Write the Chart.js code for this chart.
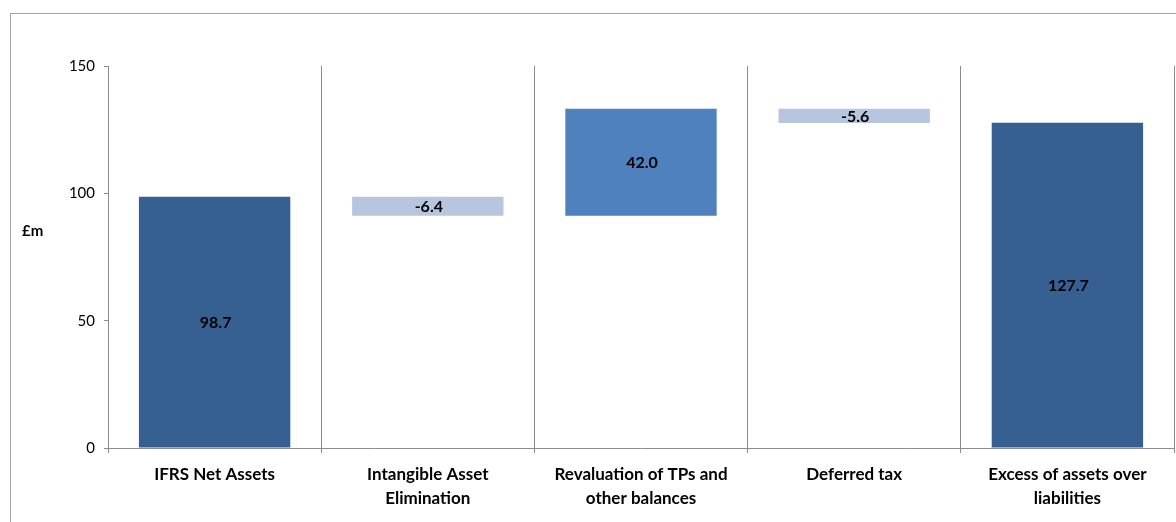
<!DOCTYPE html>
<html>
<head>
<meta charset="utf-8">
<script src="https://cdn.jsdelivr.net/npm/chart.js@4/dist/chart.umd.min.js"></script>
<style>
  body { margin: 0; background: #fff; }
  #wrap { position: relative; width: 1176px; height: 522px; overflow: hidden; }
  #frame { position: absolute; left: 10px; top: 13px; width: 1300px; height: 700px;
           border-left: 1px solid #a6a6a6; border-top: 1px solid #a6a6a6; }
  canvas { position: absolute; left: 0; top: 0; }
</style>
</head>
<body>
<div id="wrap">
  <div id="frame"></div>
  <canvas id="chart" width="1176" height="522"></canvas>
</div>
<script>
const categories = [
    'IFRS Net Assets',
    ['Intangible Asset', 'Elimination'],
    ['Revaluation of TPs and', 'other balances'],
    'Deferred tax',
    ['Excess of assets over', 'liabilities']
];
// floating bar bottoms and tops
const barStart = [0, 91.2, 91.2, 127.6, 0];
const barEnd = [98.7, 98.7, 133.2, 133.2, 127.7];
const barLabels = ['98.7', '-6.4', '42.0', '-5.6', '127.7'];
const barColors = ['#376092', '#b7c5df', '#4f81bd', '#b7c5df', '#376092'];
const yTicks = [0, 50, 100, 150];

const FONT = 'Lato, "Open Sans", sans-serif';

const valueLabels = {
    id: 'valueLabels',
    afterDatasetsDraw(chart) {
        const ctx = chart.ctx;
        const meta = chart.getDatasetMeta(0);
        ctx.save();
        ctx.font = 'bold 16px ' + FONT;
        ctx.fillStyle = '#000';
        ctx.textAlign = 'center';
        ctx.textBaseline = 'middle';
        meta.data.forEach((bar, i) => {
            ctx.fillText(barLabels[i], bar.x + 1, (bar.y + bar.base) / 2 + 1);
        });
        // unit label
        ctx.font = 'bold 15px ' + FONT;
        ctx.textAlign = 'left';
        ctx.fillText('£m', 22, 231);
        ctx.restore();
    }
};

const ctx = document.getElementById('chart');

const chart = new Chart(ctx, {
    type: 'bar',
    data: {
        labels: categories,
        datasets: [{
            data: barStart.map((s, i) => [s, barEnd[i]]),
            backgroundColor: barColors,
            borderWidth: 0,
            barPercentage: 0.71,
            categoryPercentage: 1
        }]
    },
    options: {
        responsive: false,
        animation: false,
        layout: { padding: { top: 66, right: 2, left: 0, bottom: 0 } },
        plugins: {
            legend: { display: false },
            tooltip: { enabled: false }
        },
        scales: {
            x: {
                grid: {
                    offset: true,
                    color: '#8c8c8c',
                    lineWidth: 1,
                    tickLength: 5
                },
                border: { color: '#8c8c8c' },
                ticks: {
                    color: '#000',
                    font: { family: FONT, size: 17, weight: 'bold', lineHeight: 1.45 },
                    padding: 9,
                    maxRotation: 0,
                    autoSkip: false
                },
                afterFit(scale) { scale.height = 74; }
            },
            y: {
                min: 0,
                max: 150,
                afterBuildTicks(scale) { scale.ticks = yTicks.map(v => ({ value: v })); },
                grid: {
                    drawOnChartArea: false,
                    color: '#8c8c8c',
                    tickLength: 4
                },
                border: { color: '#8c8c8c' },
                ticks: {
                    color: '#000',
                    font: { family: FONT, size: 15 },
                    padding: 9
                },
                afterFit(scale) { scale.width = 108; }
            }
        }
    },
    plugins: [valueLabels]
});
</script>
</body>
</html>
